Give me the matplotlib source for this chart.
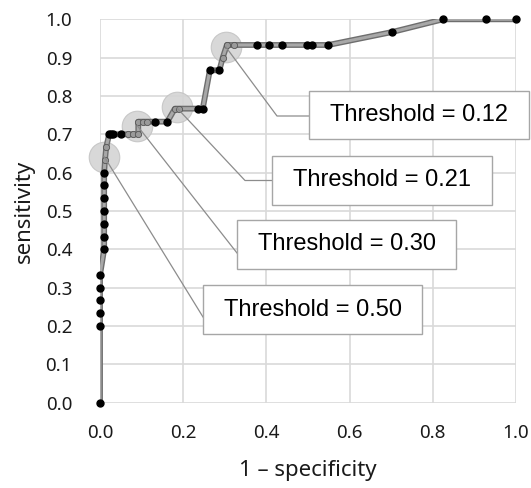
import matplotlib
matplotlib.use("Agg")
import matplotlib.pyplot as plt

# ROC curve data (1 - specificity, sensitivity)
fpr = [0.0, 0.0, 0.0, 0.0, 0.0, 0.0,
       0.01, 0.01, 0.01, 0.01, 0.01, 0.01, 0.01,
       0.012, 0.015,
       0.022, 0.026, 0.032, 0.05,
       0.068, 0.08, 0.092,
       0.092, 0.103, 0.114,
       0.132, 0.162,
       0.18, 0.19,
       0.236, 0.247,
       0.264, 0.287,
       0.295,
       0.305, 0.322,
       0.377, 0.407, 0.437, 0.498, 0.509, 0.549,
       0.703, 0.825, 0.927, 1.0]
tpr = [0.0, 0.2, 0.233, 0.267, 0.3, 0.333,
       0.4, 0.433, 0.467, 0.5, 0.533, 0.567, 0.6,
       0.633, 0.667,
       0.7, 0.7, 0.7, 0.7,
       0.7, 0.7, 0.7,
       0.733, 0.733, 0.733,
       0.733, 0.733,
       0.767, 0.767,
       0.767, 0.767,
       0.867, 0.867,
       0.9,
       0.933, 0.933,
       0.933, 0.933, 0.933, 0.933, 0.933, 0.933,
       0.967, 1.0, 1.0, 1.0]
# points near the highlighted thresholds (drawn gray)
gray_idx = [13, 14, 19, 20, 21, 22, 23, 24, 27, 28, 33, 34, 35]

thr_labels = ["Threshold = 0.12", "Threshold = 0.21", "Threshold = 0.30", "Threshold = 0.50"]
thr_x = [0.303, 0.184, 0.09, 0.01]
thr_y = [0.927, 0.770, 0.722, 0.642]

fig = plt.figure(figsize=(5.31, 4.88), dpi=100)
W, H = 531, 488
ax = fig.add_axes([100 / W, (H - 402.7) / H, 416 / W, 383.4 / H])
ax.set_xlim(0, 1)
ax.set_ylim(0, 1)
ax.set_xticks([0, 0.2, 0.4, 0.6, 0.8, 1.0])
ax.set_yticks([i / 10 for i in range(11)])
ax.set_xticklabels(["0.0", "0.2", "0.4", "0.6", "0.8", "1.0"])
ax.set_yticklabels(["%.1f" % (i / 10) for i in range(11)])
for s in ax.spines.values():
    s.set_visible(False)
ax.grid(True, color="#d9d9d9", lw=1.2)
ax.set_axisbelow(True)
ax.tick_params(length=0, labelsize=13.5, colors="#1a1a1a")
ax.tick_params(axis="y", pad=20)
ax.tick_params(axis="x", pad=15)
for lab in ax.get_xticklabels() + ax.get_yticklabels():
    lab.set_family("Noto Sans")
ax.set_xlabel("1 \u2013 specificity", fontsize=16, family="Noto Sans", labelpad=13, color="#1a1a1a")
ax.set_ylabel("sensitivity", fontsize=16, family="Noto Sans", labelpad=8, color="#1a1a1a")

# highlight circles
ax.plot(thr_x, thr_y, "o", ms=22, mfc="#d4d4d4", mec="#c4c4c4", mew=0.8, alpha=0.9, zorder=2, clip_on=False)

# curve
ax.plot(fpr, tpr, "-", color="#6e6e6e", lw=4.2, zorder=3, solid_capstyle="butt")
ax.plot(fpr, tpr, "-", color="#a8a8a8", lw=2.2, zorder=3)
bx = [f for i, f in enumerate(fpr) if i not in gray_idx]
by = [t for i, t in enumerate(tpr) if i not in gray_idx]
gx = [fpr[i] for i in gray_idx]
gy = [tpr[i] for i in gray_idx]
ax.plot(bx, by, "o", ms=5.0, color="black", zorder=4, clip_on=False)
ax.plot(gx, gy, "o", ms=4.5, mfc="#9a9a9a", mec="#555555", mew=0.6, zorder=4)

# annotation boxes (figure pixel coords from top-left: left, top, right, bottom)
boxes = [(309, 91, 529, 139), (272, 156, 492, 205), (237, 220, 456, 269), (203, 285, 422, 334)]
elbows = [(277, 116), (245, 180.5), None, None]
ends = [(309, 116), (272, 180.5), (237, 253), (203, 317)]

def fig2data(px, py):
    disp = (px, H - py)
    return ax.transData.inverted().transform(disp)

for (lbl, tx, ty, box, elb, en) in zip(thr_labels, thr_x, thr_y, boxes, elbows, ends):
    l, t, r, b = box
    ymid = (t + b) / 2.0
    end = fig2data(*en)
    if elb is not None:
        e = fig2data(*elb)
        xs = [tx, e[0], end[0]]
        ys = [ty, e[1], end[1]]
    else:
        xs = [tx, end[0]]
        ys = [ty, end[1]]
    ax.plot(xs, ys, "-", color="#8c8c8c", lw=0.9, zorder=5, clip_on=False)
    rect = plt.Rectangle((l / W, (H - b) / H), (r - l) / W, (b - t) / H,
                         transform=fig.transFigure, facecolor="white",
                         edgecolor="#a6a6a6", lw=1.0, zorder=6)
    fig.add_artist(rect)
    fig.text((l + r) / 2 / W, (H - ymid) / H, lbl, ha="center", va="center",
             fontsize=17, family="Liberation Sans", color="black", zorder=7)

fig.savefig("out.png", dpi=100)
